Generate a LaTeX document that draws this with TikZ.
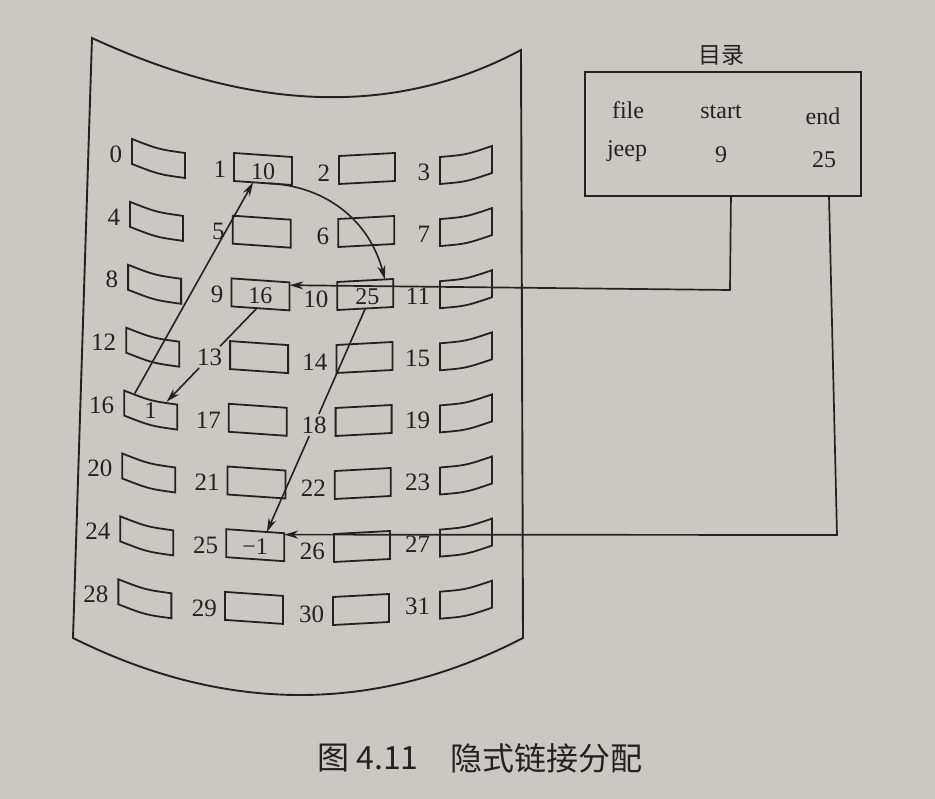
\documentclass[tikz,border=0pt]{standalone}
\usepackage{fontspec}
\setmainfont{Liberation Serif}
\newfontfamily\cjk{Noto Sans CJK SC}
\usetikzlibrary{arrows.meta,calc}
\definecolor{paper}{RGB}{203,200,195}
\definecolor{ink}{RGB}{36,34,32}
\begin{document}
\begin{tikzpicture}[x=1pt,y=-1pt,
  boxline/.style={draw=ink,line width=1.8pt,line join=miter},
  lbl/.style={text=ink,font=\fontsize{25}{25}\selectfont,inner sep=0pt,outer sep=2.5pt},
  btxt/.style={text=ink,font=\fontsize{24}{24}\selectfont,inner sep=0pt},
  dtxt/.style={text=ink,font=\fontsize{24}{24}\selectfont,inner sep=0pt},
  arr/.style={draw=ink,line width=1.6pt,-{Stealth[length=14pt,width=8pt]}},
  conn/.style={draw=ink,line width=1.7pt,-{Stealth[length=14pt,width=8pt]}}]
\fill[paper] (0,0) rectangle (935,799);
\useasboundingbox (0,0) rectangle (935,799);
% disk outline
\draw[ink,line width=1.9pt,line join=miter] (92,38) .. controls (253.7,112.7) and (396,116.7) .. (521,50)
  -- (523,638) .. controls (375.7,714) and (225.7,714) .. (73,638) -- cycle;
% blocks
\foreach \row in {0,...,7}{
 \foreach \col in {0,...,3}{
  \pgfmathtruncatemacro\n{4*\row+\col}
  \pgfmathsetmacro\bx{{132,234,339,440}[\col]+{-1.95,-1.3,-0.85,0}[\col]*\row}
  \pgfmathsetmacro\by{{139,153,156,157}[\col]+{62.9,62.7,63,62.1}[\col]*\row}
  \pgfmathsetmacro\lx{{-7.5,-5.5,-6.5,-7.5}[\col]}
  \pgfmathsetmacro\ly{{15,16,17,15}[\col]}
  \begin{scope}[shift={(\bx,\by)}]
   \ifcase\col
     \coordinate (b\n-tl) at (0,0); \coordinate (b\n-tr) at (53,14);
     \coordinate (b\n-br) at (53,39); \coordinate (b\n-bl) at (0,25);
     \coordinate (b\n) at (26.5,19.5);
     \draw[boxline] (b\n-tl) .. controls (26.5,10.3) .. (b\n-tr) -- (b\n-br) .. controls (26.5,35.3) .. (b\n-bl) -- cycle;
   \or
     \coordinate (b\n-tl) at (0,0); \coordinate (b\n-tr) at (58,4);
     \coordinate (b\n-br) at (58,32); \coordinate (b\n-bl) at (0,28);
     \coordinate (b\n) at (29,17);
     \draw[boxline] (b\n-tl) -- (b\n-tr) -- (b\n-br) -- (b\n-bl) -- cycle;
   \or
     \coordinate (b\n-tl) at (0,0); \coordinate (b\n-tr) at (56,-3);
     \coordinate (b\n-br) at (56,25); \coordinate (b\n-bl) at (0,28);
     \coordinate (b\n) at (28,13.5);
     \draw[boxline] (b\n-tl) -- (b\n-tr) -- (b\n-br) -- (b\n-bl) -- cycle;
   \or
     \coordinate (b\n-tl) at (0,0); \coordinate (b\n-tr) at (52,-11);
     \coordinate (b\n-br) at (52,16); \coordinate (b\n-bl) at (0,27);
     \coordinate (b\n) at (26,8);
     \draw[boxline] (b\n-tl) .. controls (26,-2.2) .. (b\n-tr) -- (b\n-br) .. controls (26,24.8) .. (b\n-bl) -- cycle;
   \fi
   \node[lbl,anchor=east] (l\n) at (\lx,\ly) {\n};
  \end{scope}
 }
}
% block contents
\node[btxt] (v1) at ($(b1)+(0,2)$) {10};
\node[btxt] (v9) at (b9) {16};
\node[btxt] (v10) at ($(b10)+(2,1)$) {25};
\node[btxt] (v16) at (b16) {1};
\node[btxt] (v25) at (b25) {−1};
% chain arrows
\coordinate (s16) at ($(b16-tl)!0.2!(b16-tr)$);
\coordinate (e1) at ($(b1-bl)!0.33!(b1-br)$);
\draw[arr] (s16) -- (e1);
\coordinate (s1) at ($(b1-bl)!0.6!(b1-br)$);
\coordinate (e10) at ($(b10-tl)!0.85!(b10-tr)$);
\draw[arr] (s1) .. controls ($(s1)+(51,2)$) and ($(e10)+(-17,-64)$) .. (e10);
\coordinate (s10) at ($(b10-bl)!0.5!(b10-br)$);
\coordinate (e25) at ($(b25-tl)!0.7!(b25-tr)$);
\draw[arr] (s10) -- (l18) -- (e25);
\coordinate (s9) at ($(b9-bl)!0.44!(b9-br)$);
\coordinate (e16) at ($(b16-tl)!0.8!(b16-tr)$);
\draw[arr] (s9) -- (l13) -- (e16);
% directory
\node[draw=ink,line width=1.8pt,minimum width=276pt,minimum height=124pt,anchor=north west,inner sep=0pt] (dir) at (584,71) {};
\node[text=ink,font=\cjk\fontsize{23}{23}\selectfont,inner sep=0pt] (dirtitle) at (721,55) {目录};
\node[dtxt,anchor=base] (hfile) at (628,119) {file};
\node[dtxt,anchor=base] (hstart) at (721,119) {start};
\node[dtxt,anchor=base] (hend) at (823,125) {end};
\node[dtxt,anchor=base] (vjeep) at (627,157) {jeep};
\node[dtxt,anchor=base] (vstart) at (721,163) {9};
\node[dtxt,anchor=base] (vend) at (824,168) {25};
\coordinate (ds) at ($(dir.south west)!0.529!(dir.south east)$);
\coordinate (de) at ($(dir.south west)!0.882!(dir.south east)$);
\coordinate (dsk) at (730,290);
\coordinate (dek) at (837,535);
\coordinate (t9) at ($(b9-tr)!0.1!(b9-br)$);
\coordinate (t25) at ($(b25-tr)!0.05!(b25-br)$);
\draw[conn] (ds) -- (dsk) -- (t9);
\draw[conn] (de) -- (dek) -- (t25);
% caption
\node[text=ink,font=\cjk\fontsize{32}{32}\selectfont,anchor=west,inner sep=0pt] (cap1) at (317,758) {图 4.11};
\node[text=ink,font=\cjk\fontsize{32}{32}\selectfont,anchor=east,inner sep=0pt] (cap2) at (643,758) {隐式链接分配};
\end{tikzpicture}
\end{document}
